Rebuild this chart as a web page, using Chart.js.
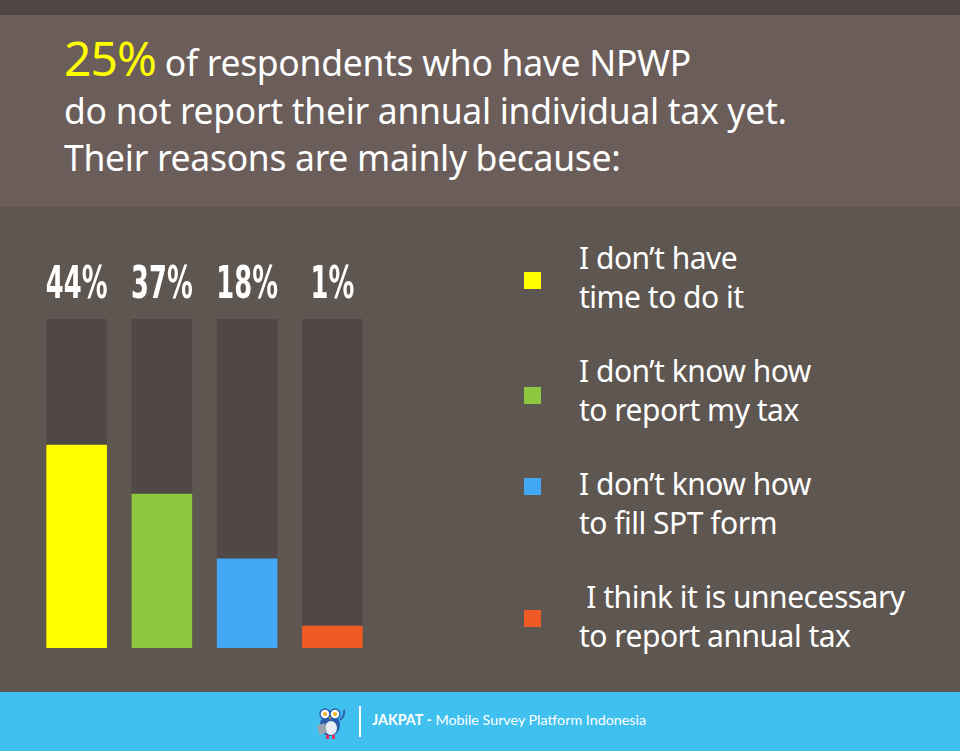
<!DOCTYPE html>
<html>
<head>
<meta charset="utf-8">
<script src="https://cdn.jsdelivr.net/npm/chart.js@4/dist/chart.umd.min.js"></script>
<style>
  html, body { margin: 0; padding: 0; }
  body { width: 960px; height: 751px; overflow: hidden; background: #5e5651; position: relative; font-family: "Noto Sans", "Open Sans", sans-serif; }
  .strip { position: absolute; left: 0; top: 0; width: 960px; height: 15px; background: #4e4643; }
  .head { position: absolute; left: 0; top: 15px; width: 960px; height: 192px; background: #6b5e5a; }
  .head h1 { margin: 0; position: absolute; left: 64px; top: 19px; color: #fff; font-weight: 400; font-size: 35.5px; line-height: 47.5px; letter-spacing: -0.3px; }
  .head h1 .big { color: #ffff00; font-size: 48px; letter-spacing: -1px; }
  #wrap { position: absolute; left: 34px; top: 250px; width: 341px; height: 398px; }
  .legend { position: absolute; left: 524px; top: 0; }
  .item { position: absolute; left: 0; width: 420px; }
  .item .sw { position: absolute; left: 0; width: 17px; height: 17px; }
  .item .tx { position: absolute; left: 55px; top: 0; color: #fff; font-size: 30px; line-height: 39px; white-space: pre; letter-spacing: -0.5px; }
  .foot { position: absolute; left: 0; top: 692px; width: 960px; height: 59px; background: #40c0ef; }
  .foot .bar { position: absolute; left: 359px; top: 14px; width: 2px; height: 31px; background: #fff; }
  .foot .txt { position: absolute; left: 372px; top: 19px; color: #fff; font-family: Lato, "Open Sans", sans-serif; font-size: 14.3px; }
  .foot svg { position: absolute; left: 314px; top: 12px; }
</style>
</head>
<body>
<div class="strip"></div>
<div class="head">
  <h1><span class="big">25%</span> of respondents who have NPWP<br>do not report their annual individual tax yet.<br>Their reasons are mainly because:</h1>
</div>
<div id="wrap"><canvas id="reasonChart"></canvas></div>
<div class="legend" id="legend"></div>
<div class="foot">
  <svg width="34" height="36" viewBox="0 0 34 36">
    <ellipse cx="16" cy="21" rx="10" ry="11" fill="#2a5caa"/>
    <ellipse cx="17" cy="24" rx="6" ry="7" fill="#e8eef5"/>
    <circle cx="11" cy="10" r="5" fill="#fff" stroke="#2a5caa" stroke-width="1.5"/>
    <circle cx="21" cy="10" r="5" fill="#fff" stroke="#2a5caa" stroke-width="1.5"/>
    <circle cx="11" cy="10" r="2" fill="#f5b31b"/>
    <circle cx="21" cy="10" r="2" fill="#f5b31b"/>
    <path d="M15 13 L17 13 L16 16 Z" fill="#f5b31b"/>
    <rect x="4" y="20" width="8" height="10" rx="1" fill="#9aa4b0" transform="rotate(-15 8 25)"/>
    <path d="M26 16 Q31 12 30 6" stroke="#2a5caa" stroke-width="2" fill="none"/>
    <rect x="12" y="31" width="3" height="4" fill="#e5325a"/>
    <rect x="18" y="31" width="3" height="4" fill="#e5325a"/>
  </svg>
  <div class="bar"></div>
  <div class="txt"><b>JAKPAT -</b> Mobile Survey Platform Indonesia</div>
</div>
<script>
// answers to "why haven't you reported your annual tax"
const reasons = [
  'I don\u2019t have\ntime to do it',
  'I don\u2019t know how\nto report my tax',
  'I don\u2019t know how\nto fill SPT form',
  ' I think it is unnecessary\nto report annual tax'
];
const percentLabels = [44, 37, 18, 1];
// filled share of each bar's track, as drawn in the infographic (not to scale with the labels)
const barFill = [61.7, 46.8, 27.1, 6.7];
const trackFull = [100, 100, 100, 100];
const colors = ['#ffff00', '#8dc63f', '#42a8f4', '#f15a24'];
const legendTops = [238, 351, 464, 577];
const swatchTops = [34, 36, 14, 33];

// legend on the right
const legend = document.getElementById('legend');
reasons.forEach((r, i) => {
  const item = document.createElement('div');
  item.className = 'item';
  item.style.top = legendTops[i] + 'px';
  item.innerHTML = '<div class="sw" style="background:' + colors[i] + ';top:' + swatchTops[i] + 'px"></div>' +
    '<div class="tx"></div>';
  item.querySelector('.tx').textContent = r;
  legend.appendChild(item);
});

const percentPlugin = {
  id: 'percentPlugin',
  afterDatasetsDraw(chart) {
    const ctx = chart.ctx;
    const meta = chart.getDatasetMeta(1);
    ctx.save();
    ctx.fillStyle = '#ffffff';
    ctx.font = 'bold 44px "DejaVu Sans Condensed", "Liberation Sans Narrow", sans-serif';
    ctx.textAlign = 'center';
    ctx.textBaseline = 'alphabetic';
    meta.data.forEach((bar, i) => {
      ctx.save();
      ctx.translate(bar.x, chart.chartArea.top - 21);
      ctx.scale(0.65, 1);
      ctx.fillText(percentLabels[i] + '%', 0, 0);
      ctx.restore();
    });
    ctx.restore();
  }
};

const ctx = document.getElementById('reasonChart').getContext('2d');
new Chart(ctx, {
  type: 'bar',
  data: {
    labels: reasons,
    datasets: [{
      label: 'Share',
      data: barFill,
      backgroundColor: colors,
      barThickness: 60,
      grouped: false,
      order: 0
    }, {
      label: 'Track',
      data: trackFull,
      backgroundColor: '#504845',
      barThickness: 60,
      grouped: false,
      order: 1
    }]
  },
  options: {
    responsive: true,
    maintainAspectRatio: false,
    animation: false,
    layout: { padding: { top: 69, left: 0, right: 0, bottom: 0 } },
    plugins: { legend: { display: false }, tooltip: { enabled: false } },
    scales: {
      x: { display: false },
      y: { display: false, min: 0, max: 100 }
    }
  },
  plugins: [percentPlugin]
});
</script>
</body>
</html>
